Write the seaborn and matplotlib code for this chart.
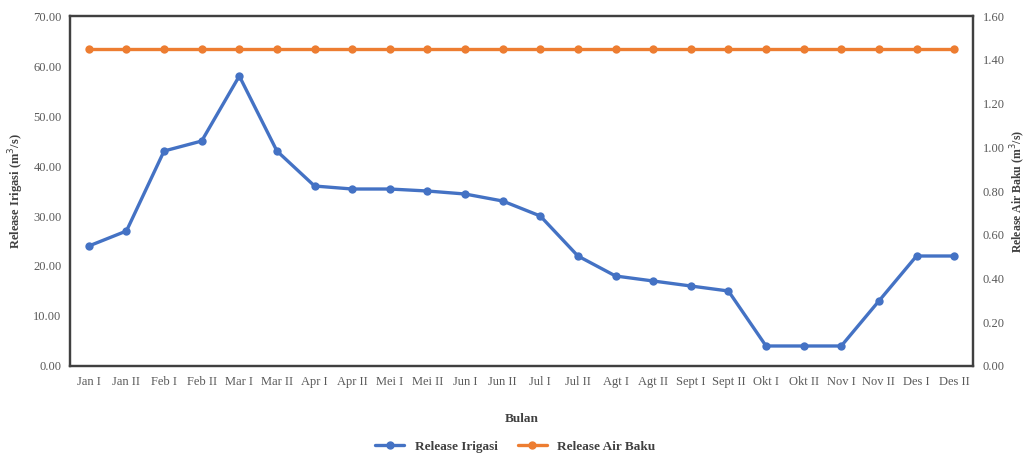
import matplotlib
matplotlib.use("Agg")
import matplotlib.pyplot as plt
import seaborn as sns
import pandas as pd
from matplotlib.lines import Line2D

periods = ["Jan I", "Jan II", "Feb I", "Feb II", "Mar I", "Mar II", "Apr I", "Apr II",
           "Mei I", "Mei II", "Jun I", "Jun II", "Jul I", "Jul II", "Agt I", "Agt II",
           "Sept I", "Sept II", "Okt I", "Okt II", "Nov I", "Nov II", "Des I", "Des II"]
release_irigasi = [24.0, 27.0, 43.0, 45.0, 58.0, 43.0, 36.0, 35.4,
                   35.4, 35.0, 34.4, 33.0, 30.0, 22.0, 18.0, 17.0,
                   16.0, 15.0, 4.0, 4.0, 4.0, 13.0, 22.0, 22.0]
release_air_baku = [1.45] * 24
left_ticks = [0, 10, 20, 30, 40, 50, 60, 70]
right_ticks = [0.0, 0.2, 0.4, 0.6, 0.8, 1.0, 1.2, 1.4, 1.6]

blue = "#4472C4"
orange = "#ED7D31"
tick_color = "#595959"

sns.set_theme(style="white")
plt.rcParams["font.family"] = ["Liberation Serif", "DejaVu Serif"]

df = pd.DataFrame({"x": range(len(periods)),
                   "irigasi": release_irigasi,
                   "air_baku": release_air_baku})

fig = plt.figure(figsize=(10.31, 4.58), dpi=100)
ax = fig.add_axes([0.0679, 0.2009, 0.8758, 0.7641])
ax2 = ax.twinx()

sns.lineplot(data=df, x="x", y="irigasi", ax=ax, color=blue, linewidth=2.4,
             marker="o", markersize=6, markeredgewidth=0, zorder=3)
sns.lineplot(data=df, x="x", y="air_baku", ax=ax2, color=orange, linewidth=2.4,
             marker="o", markersize=6, markeredgewidth=0, zorder=3)

ax.set_xlim(-0.5, len(periods) - 0.5)
ax.set_ylim(0, 70)
ax2.set_ylim(0, 1.6)
ax.set_xticks(range(len(periods)))
ax.set_xticklabels(periods, fontsize=9, color=tick_color)
ax.set_yticks(left_ticks)
ax.set_yticklabels([f"{v:.2f}" for v in left_ticks], fontsize=9, color=tick_color)
ax2.set_yticks(right_ticks)
ax2.set_yticklabels([f"{v:.2f}" for v in right_ticks], fontsize=9, color=tick_color)
ax.tick_params(axis="x", length=0, pad=7)
ax.tick_params(axis="y", length=0, pad=6)
ax2.tick_params(axis="y", length=0, pad=7)

ax.set_xlabel("Bulan", fontsize=9.5, fontweight="bold", color="#404040", labelpad=18)
ax.set_ylabel("Release Irigasi (m$^3$/s)", fontsize=9, fontweight="bold", color="#404040", labelpad=5)
ax2.set_ylabel("Release Air Baku (m$^3$/s)", fontsize=8.5, fontweight="bold", color="#404040", labelpad=3)

for a in (ax, ax2):
    for s in a.spines.values():
        s.set_color("#404040")
        s.set_linewidth(1.6)
ax.grid(False)
ax2.grid(False)

handles = [Line2D([0], [0], color=blue, lw=2.4, marker="o", markersize=5),
           Line2D([0], [0], color=orange, lw=2.4, marker="o", markersize=5)]
fig.legend(handles, ["Release Irigasi", "Release Air Baku"], loc="center",
           bbox_to_anchor=(0.5, 0.025), ncol=2, frameon=False,
           prop={"weight": "bold", "size": 9.5}, handlelength=2.2, columnspacing=1.5,
           labelcolor="#404040")

fig.savefig("out.png", dpi=100)
